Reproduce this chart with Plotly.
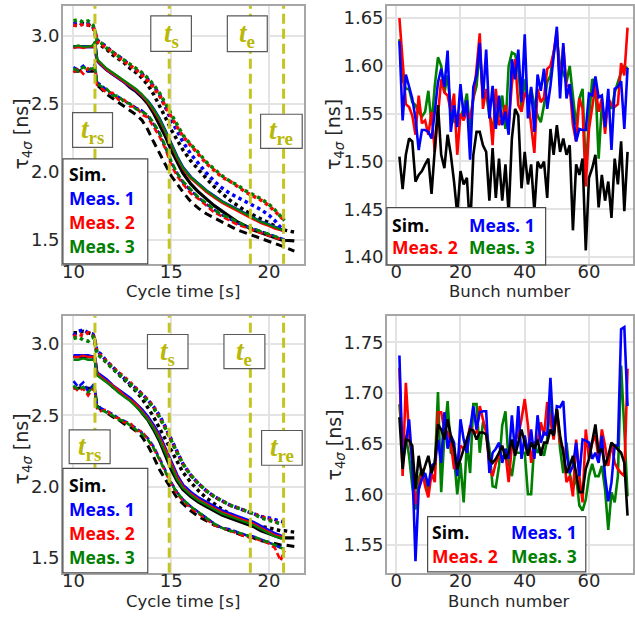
import plotly.graph_objects as go

W, H = 635, 617

# ---------------- bunch-length evolution along the cycle (left panels) ----------------
t_meas = [10.0, 10.25, 10.5, 10.75, 11.0, 11.1, 11.2, 11.4, 11.7, 12.0, 12.3, 12.6,
          12.9, 13.2, 13.5, 13.8, 14.1, 14.4, 14.7, 15.0, 15.3, 15.6, 16.0, 16.4,
          16.8, 17.2, 17.6, 18.0, 18.4, 18.8, 19.2, 19.6, 20.0, 20.3, 20.6, 20.8]
t_sim = t_meas + [21.05, 21.3]

# upper panel: max (dotted), mean (solid), min (dashed)
top_sim_max = [3.08, 3.08, 3.09, 3.08, 3.07, 3.02, 2.95, 2.93, 2.90, 2.86, 2.83, 2.80, 2.76, 2.73, 2.69, 2.64,
               2.57, 2.49, 2.40, 2.31, 2.23, 2.16, 2.08, 2.01, 1.95, 1.89, 1.84, 1.79, 1.75, 1.71, 1.68, 1.65,
               1.62, 1.60, 1.58, 1.57, 1.56, 1.555]
top_sim_mean = [2.92, 2.92, 2.92, 2.92, 2.92, 2.94, 2.82, 2.79, 2.75, 2.72, 2.69, 2.66, 2.62, 2.59, 2.55, 2.50,
                2.43, 2.35, 2.26, 2.16, 2.07, 1.99, 1.91, 1.85, 1.80, 1.75, 1.71, 1.67, 1.63, 1.60, 1.57, 1.55,
                1.53, 1.51, 1.50, 1.495, 1.49, 1.49]
top_sim_min = [2.74, 2.74, 2.75, 2.74, 2.74, 2.75, 2.64, 2.61, 2.57, 2.54, 2.51, 2.48, 2.45, 2.42, 2.38, 2.31,
               2.22, 2.14, 2.05, 1.97, 1.91, 1.85, 1.78, 1.73, 1.69, 1.66, 1.63, 1.60, 1.57, 1.55, 1.53, 1.51,
               1.49, 1.47, 1.455, 1.445, 1.43, 1.415]

top_m1_max = [3.09, 3.10, 3.08, 3.09, 3.07, 3.03, 2.97, 2.95, 2.92, 2.88, 2.85, 2.82, 2.78, 2.75, 2.72, 2.68,
              2.63, 2.57, 2.47, 2.38, 2.30, 2.22, 2.13, 2.06, 1.99, 1.93, 1.88, 1.84, 1.81, 1.78, 1.75, 1.72,
              1.68, 1.64, 1.59, 1.57]
top_m1_mean = [2.92, 2.92, 2.92, 2.92, 2.92, 2.95, 2.82, 2.79, 2.75, 2.72, 2.69, 2.66, 2.63, 2.60, 2.56, 2.52,
               2.46, 2.39, 2.30, 2.20, 2.11, 2.03, 1.96, 1.91, 1.86, 1.82, 1.78, 1.75, 1.72, 1.69, 1.66, 1.63,
               1.61, 1.59, 1.575, 1.565]
top_m1_min = [2.77, 2.75, 2.78, 2.74, 2.77, 2.79, 2.66, 2.64, 2.60, 2.57, 2.55, 2.52, 2.50, 2.47, 2.45, 2.41,
              2.35, 2.28, 2.18, 2.07, 1.99, 1.92, 1.86, 1.81, 1.76, 1.72, 1.68, 1.65, 1.62, 1.60, 1.58, 1.56,
              1.54, 1.52, 1.51, 1.50]

top_m2_max = [3.08, 3.07, 3.09, 3.08, 3.06, 3.03, 2.96, 2.94, 2.91, 2.88, 2.84, 2.81, 2.78, 2.75, 2.71, 2.67,
              2.62, 2.56, 2.48, 2.40, 2.33, 2.26, 2.19, 2.12, 2.06, 2.01, 1.96, 1.93, 1.89, 1.85, 1.82, 1.79,
              1.75, 1.71, 1.67, 1.64]
top_m2_mean = [2.91, 2.92, 2.91, 2.92, 2.92, 2.95, 2.82, 2.79, 2.75, 2.72, 2.69, 2.66, 2.63, 2.60, 2.56, 2.51,
               2.45, 2.38, 2.29, 2.19, 2.10, 2.02, 1.95, 1.90, 1.85, 1.81, 1.77, 1.74, 1.71, 1.68, 1.65, 1.62,
               1.60, 1.58, 1.57, 1.56]
top_m2_min = [2.73, 2.76, 2.72, 2.76, 2.74, 2.77, 2.64, 2.62, 2.58, 2.58, 2.53, 2.53, 2.48, 2.48, 2.42, 2.40,
              2.33, 2.26, 2.17, 2.05, 1.97, 1.91, 1.84, 1.80, 1.75, 1.70, 1.67, 1.64, 1.61, 1.59, 1.57, 1.55,
              1.53, 1.51, 1.50, 1.47]

top_m3_max = [3.11, 3.12, 3.10, 3.11, 3.08, 3.04, 2.97, 2.95, 2.91, 2.88, 2.85, 2.82, 2.79, 2.76, 2.73, 2.69,
              2.64, 2.58, 2.50, 2.42, 2.34, 2.27, 2.20, 2.14, 2.07, 2.02, 1.97, 1.93, 1.90, 1.86, 1.83, 1.80,
              1.76, 1.72, 1.67, 1.64]
top_m3_mean = [2.92, 2.93, 2.92, 2.92, 2.93, 2.96, 2.83, 2.80, 2.76, 2.73, 2.70, 2.67, 2.64, 2.61, 2.57, 2.52,
               2.46, 2.39, 2.30, 2.20, 2.11, 2.03, 1.96, 1.91, 1.86, 1.82, 1.78, 1.75, 1.72, 1.69, 1.66, 1.63,
               1.61, 1.59, 1.575, 1.565]
top_m3_min = [2.76, 2.74, 2.77, 2.75, 2.76, 2.78, 2.65, 2.63, 2.61, 2.56, 2.56, 2.51, 2.50, 2.46, 2.44, 2.42,
              2.36, 2.29, 2.19, 2.08, 1.99, 1.93, 1.87, 1.81, 1.77, 1.72, 1.68, 1.66, 1.63, 1.60, 1.58, 1.56,
              1.54, 1.52, 1.51, 1.49]

# lower panel
bot_sim_max = [3.08, 3.08, 3.09, 3.08, 3.07, 3.02, 2.94, 2.91, 2.87, 2.83, 2.79, 2.75, 2.71, 2.67, 2.62, 2.56,
               2.49, 2.41, 2.33, 2.25, 2.17, 2.10, 2.03, 1.97, 1.92, 1.88, 1.84, 1.81, 1.78, 1.76, 1.74, 1.72,
               1.71, 1.70, 1.69, 1.69, 1.685, 1.68]
bot_sim_mean = [2.91, 2.91, 2.91, 2.91, 2.91, 2.90, 2.79, 2.77, 2.74, 2.70, 2.67, 2.64, 2.61, 2.57, 2.52, 2.47,
                2.40, 2.32, 2.22, 2.12, 2.04, 1.98, 1.93, 1.89, 1.86, 1.83, 1.80, 1.78, 1.76, 1.74, 1.72, 1.69,
                1.67, 1.65, 1.64, 1.64, 1.64, 1.64]
bot_sim_min = [2.69, 2.69, 2.70, 2.69, 2.69, 2.68, 2.57, 2.54, 2.52, 2.49, 2.47, 2.44, 2.42, 2.39, 2.35, 2.29,
               2.21, 2.12, 2.05, 1.98, 1.92, 1.88, 1.83, 1.79, 1.76, 1.73, 1.71, 1.69, 1.67, 1.65, 1.64, 1.62,
               1.61, 1.60, 1.59, 1.59, 1.585, 1.58]

bot_m1_max = [3.06, 3.09, 3.10, 3.08, 3.07, 3.03, 2.95, 2.93, 2.88, 2.84, 2.80, 2.76, 2.72, 2.69, 2.65, 2.61,
              2.56, 2.50, 2.42, 2.33, 2.24, 2.16, 2.08, 2.02, 1.97, 1.93, 1.90, 1.87, 1.85, 1.83, 1.81, 1.79,
              1.78, 1.77, 1.76, 1.75]
bot_m1_mean = [2.92, 2.92, 2.92, 2.92, 2.91, 2.90, 2.80, 2.78, 2.75, 2.71, 2.68, 2.65, 2.62, 2.58, 2.54, 2.49,
               2.43, 2.36, 2.27, 2.17, 2.08, 2.01, 1.96, 1.92, 1.89, 1.86, 1.83, 1.81, 1.79, 1.77, 1.75, 1.72,
               1.69, 1.67, 1.655, 1.65]
bot_m1_min = [2.74, 2.70, 2.73, 2.67, 2.71, 2.68, 2.58, 2.55, 2.53, 2.51, 2.48, 2.46, 2.44, 2.41, 2.38, 2.34,
              2.28, 2.20, 2.11, 2.03, 1.96, 1.91, 1.86, 1.82, 1.78, 1.74, 1.71, 1.70, 1.68, 1.66, 1.65, 1.63,
              1.61, 1.59, 1.57, 1.56]

bot_m2_max = [3.05, 3.07, 3.06, 3.08, 3.06, 3.02, 2.94, 2.92, 2.88, 2.84, 2.80, 2.77, 2.73, 2.69, 2.65, 2.61,
              2.56, 2.49, 2.41, 2.32, 2.24, 2.16, 2.08, 2.02, 1.97, 1.93, 1.90, 1.87, 1.85, 1.83, 1.81, 1.79,
              1.77, 1.75, 1.74, 1.74]
bot_m2_mean = [2.91, 2.91, 2.92, 2.91, 2.91, 2.90, 2.80, 2.77, 2.74, 2.71, 2.68, 2.64, 2.61, 2.58, 2.53, 2.48,
               2.42, 2.35, 2.26, 2.16, 2.07, 2.00, 1.95, 1.91, 1.88, 1.85, 1.82, 1.80, 1.78, 1.76, 1.74, 1.71,
               1.68, 1.66, 1.65, 1.64]
bot_m2_min = [2.70, 2.67, 2.69, 2.64, 2.69, 2.66, 2.55, 2.53, 2.54, 2.49, 2.48, 2.45, 2.45, 2.39, 2.39, 2.33,
              2.27, 2.19, 2.10, 2.02, 1.95, 1.90, 1.85, 1.81, 1.77, 1.73, 1.71, 1.69, 1.67, 1.65, 1.64, 1.62,
              1.60, 1.57, 1.48, 1.55]

bot_m3_max = [3.04, 3.05, 3.03, 3.02, 3.05, 3.01, 2.93, 2.91, 2.87, 2.83, 2.79, 2.76, 2.72, 2.68, 2.64, 2.60,
              2.55, 2.49, 2.41, 2.32, 2.24, 2.16, 2.08, 2.02, 1.97, 1.93, 1.90, 1.87, 1.85, 1.83, 1.81, 1.78,
              1.76, 1.75, 1.74, 1.73]
bot_m3_mean = [2.89, 2.89, 2.90, 2.89, 2.89, 2.88, 2.78, 2.76, 2.73, 2.70, 2.66, 2.63, 2.60, 2.56, 2.52, 2.47,
               2.41, 2.33, 2.24, 2.14, 2.05, 1.99, 1.94, 1.90, 1.87, 1.84, 1.81, 1.79, 1.77, 1.75, 1.73, 1.70,
               1.67, 1.65, 1.64, 1.63]
bot_m3_min = [2.71, 2.68, 2.70, 2.66, 2.70, 2.67, 2.56, 2.54, 2.52, 2.50, 2.47, 2.46, 2.43, 2.40, 2.37, 2.33,
              2.27, 2.19, 2.10, 2.02, 1.96, 1.91, 1.86, 1.82, 1.78, 1.74, 1.71, 1.69, 1.68, 1.66, 1.65, 1.63,
              1.61, 1.59, 1.57, 1.56]

# characteristic times of the cycle
event_times = [11.1, 14.9, 19.05, 20.75]
event_names = ["rs", "s", "e", "re"]

# ---------------- bunch-by-bunch lengths at the end of the cycle (right panels) ----------------
bunches = list(range(1, 73))

top_sim_b = [1.505, 1.471, 1.507, 1.524, 1.521, 1.479, 1.486, 1.490, 1.497, 1.503, 1.466, 1.517,
             1.559, 1.507, 1.493, 1.528, 1.507, 1.479, 1.445, 1.490, 1.476, 1.483, 1.428, 1.507,
             1.531, 1.531, 1.517, 1.510, 1.459, 1.514, 1.462, 1.503, 1.459, 1.497, 1.445, 1.524,
             1.555, 1.548, 1.472, 1.510, 1.476, 1.497, 1.448, 1.500, 1.493, 1.500, 1.462, 1.534,
             1.507, 1.538, 1.510, 1.524, 1.507, 1.517, 1.428, 1.497, 1.486, 1.503, 1.407, 1.483,
             1.493, 1.507, 1.452, 1.486, 1.459, 1.479, 1.441, 1.503, 1.476, 1.521, 1.448, 1.510]
top_m1_b = [1.626, 1.543, 1.591, 1.579, 1.566, 1.545, 1.512, 1.533, 1.533, 1.531, 1.524, 1.552,
            1.583, 1.597, 1.578, 1.616, 1.531, 1.559, 1.536, 1.581, 1.547, 1.564, 1.502, 1.578,
            1.590, 1.624, 1.566, 1.617, 1.545, 1.579, 1.534, 1.569, 1.538, 1.552, 1.528, 1.607,
            1.586, 1.617, 1.562, 1.633, 1.545, 1.578, 1.531, 1.591, 1.574, 1.597, 1.555, 1.579,
            1.610, 1.641, 1.566, 1.624, 1.566, 1.581, 1.552, 1.521, 1.534, 1.533, 1.533, 1.571,
            1.569, 1.589, 1.567, 1.569, 1.536, 1.576, 1.512, 1.576, 1.578, 1.584, 1.534, 1.598]
top_m2_b = [1.650, 1.603, 1.560, 1.557, 1.548, 1.528, 1.569, 1.540, 1.543, 1.528, 1.552, 1.510,
            1.553, 1.586, 1.572, 1.569, 1.552, 1.571, 1.507, 1.550, 1.543, 1.553, 1.545, 1.566,
            1.597, 1.634, 1.555, 1.576, 1.555, 1.517, 1.576, 1.538, 1.545, 1.559, 1.538, 1.581,
            1.607, 1.559, 1.552, 1.572, 1.566, 1.538, 1.509, 1.576, 1.562, 1.567, 1.597, 1.600,
            1.614, 1.636, 1.579, 1.621, 1.579, 1.579, 1.538, 1.521, 1.566, 1.555, 1.474, 1.534,
            1.555, 1.579, 1.552, 1.566, 1.529, 1.566, 1.559, 1.557, 1.560, 1.603, 1.590, 1.640]
top_m3_b = [1.628, 1.586, 1.576, 1.576, 1.562, 1.559, 1.552, 1.547, 1.552, 1.574, 1.538, 1.579,
            1.609, 1.600, 1.572, 1.590, 1.555, 1.541, 1.545, 1.547, 1.555, 1.571, 1.531, 1.566,
            1.579, 1.617, 1.569, 1.572, 1.548, 1.538, 1.538, 1.548, 1.569, 1.534, 1.600, 1.614,
            1.612, 1.597, 1.555, 1.586, 1.562, 1.576, 1.559, 1.548, 1.541, 1.559, 1.583, 1.590,
            1.614, 1.628, 1.600, 1.593, 1.583, 1.600, 1.569, 1.538, 1.566, 1.576, 1.490, 1.545,
            1.586, 1.583, 1.503, 1.559, 1.538, 1.566, 1.555, 1.572, 1.583, 1.593, 1.600, 1.597]

bot_sim_b = [1.676, 1.625, 1.654, 1.653, 1.648, 1.605, 1.638, 1.618, 1.628, 1.638, 1.621, 1.631,
             1.669, 1.664, 1.654, 1.674, 1.658, 1.645, 1.625, 1.635, 1.645, 1.654, 1.664, 1.663,
             1.654, 1.661, 1.661, 1.659, 1.635, 1.631, 1.635, 1.641, 1.648, 1.635, 1.641, 1.654,
             1.638, 1.651, 1.664, 1.651, 1.638, 1.651, 1.645, 1.654, 1.638, 1.651, 1.651, 1.664,
             1.658, 1.684, 1.658, 1.641, 1.621, 1.628, 1.638, 1.621, 1.602, 1.602, 1.625, 1.635,
             1.651, 1.669, 1.641, 1.645, 1.628, 1.638, 1.651, 1.648, 1.645, 1.641, 1.631, 1.579]
bot_m1_b = [1.737, 1.631, 1.651, 1.674, 1.631, 1.534, 1.605, 1.615, 1.621, 1.608, 1.628, 1.631,
            1.654, 1.631, 1.681, 1.645, 1.658, 1.651, 1.618, 1.674, 1.654, 1.641, 1.664, 1.687,
            1.664, 1.681, 1.682, 1.682, 1.621, 1.641, 1.645, 1.651, 1.631, 1.645, 1.635, 1.678,
            1.641, 1.687, 1.635, 1.658, 1.641, 1.664, 1.635, 1.678, 1.651, 1.661, 1.658, 1.715,
            1.658, 1.687, 1.686, 1.692, 1.641, 1.621, 1.628, 1.651, 1.618, 1.654, 1.653, 1.651,
            1.635, 1.641, 1.631, 1.658, 1.618, 1.593, 1.612, 1.648, 1.648, 1.763, 1.765, 1.687]
bot_m2_b = [1.725, 1.618, 1.710, 1.658, 1.635, 1.590, 1.605, 1.625, 1.608, 1.597, 1.621, 1.612,
            1.681, 1.681, 1.664, 1.661, 1.651, 1.625, 1.631, 1.648, 1.645, 1.651, 1.668, 1.661,
            1.661, 1.687, 1.674, 1.661, 1.628, 1.618, 1.631, 1.638, 1.635, 1.641, 1.612, 1.648,
            1.654, 1.658, 1.674, 1.694, 1.668, 1.631, 1.651, 1.651, 1.671, 1.658, 1.691, 1.671,
            1.654, 1.684, 1.651, 1.645, 1.612, 1.618, 1.598, 1.654, 1.618, 1.592, 1.664, 1.635,
            1.651, 1.658, 1.635, 1.664, 1.648, 1.628, 1.651, 1.631, 1.625, 1.621, 1.618, 1.724]
bot_m3_b = [1.689, 1.648, 1.658, 1.638, 1.608, 1.585, 1.615, 1.625, 1.618, 1.602, 1.625, 1.625,
            1.701, 1.602, 1.658, 1.692, 1.641, 1.638, 1.600, 1.631, 1.592, 1.651, 1.621, 1.689,
            1.689, 1.641, 1.671, 1.664, 1.645, 1.608, 1.607, 1.628, 1.668, 1.682, 1.631, 1.618,
            1.641, 1.641, 1.641, 1.641, 1.600, 1.600, 1.651, 1.641, 1.645, 1.638, 1.654, 1.691,
            1.658, 1.684, 1.645, 1.621, 1.651, 1.621, 1.605, 1.618, 1.589, 1.584, 1.595, 1.618,
            1.630, 1.618, 1.618, 1.628, 1.605, 1.565, 1.602, 1.592, 1.618, 1.727, 1.664, 1.598]

series_names = ["Sim.", "Meas. 1", "Meas. 2", "Meas. 3"]
series_colors = ["#000000", "#0000ff", "#ff0000", "#008000"]

TICK_FONT = "DejaVu Sans"
LEGEND_FONT = "Open Sans"
OLIVE_LINE = "#c4c422"
OLIVE_TEXT = "#b8b808"


def px(x):
    return x / W


def py(y):
    return 1 - y / H


fig = go.Figure()

# ---- left panels ----
left_sets = [
    ("x", "y", [(t_sim, top_sim_max, top_sim_mean, top_sim_min),
                (t_meas, top_m1_max, top_m1_mean, top_m1_min),
                (t_meas, top_m2_max, top_m2_mean, top_m2_min),
                (t_meas, top_m3_max, top_m3_mean, top_m3_min)]),
    ("x3", "y3", [(t_sim, bot_sim_max, bot_sim_mean, bot_sim_min),
                  (t_meas, bot_m1_max, bot_m1_mean, bot_m1_min),
                  (t_meas, bot_m2_max, bot_m2_mean, bot_m2_min),
                  (t_meas, bot_m3_max, bot_m3_mean, bot_m3_min)]),
]
for xa, ya, sets in left_sets:
    for (t, vmax, vmean, vmin), color, name in zip(sets, series_colors, series_names):
        assert len(t) == len(vmax) == len(vmean) == len(vmin)
        is_sim = name == "Sim."
        fig.add_trace(go.Scatter(x=t, y=vmin, mode="lines", xaxis=xa, yaxis=ya, showlegend=False,
                                 line=dict(color=color, width=3 if is_sim else 2.6,
                                           dash="8px,5px" if is_sim else "6px,3px")))
        fig.add_trace(go.Scatter(x=t, y=vmax, mode="lines", xaxis=xa, yaxis=ya, showlegend=False,
                                 line=dict(color=color, width=3.5, dash="3.5px,3.5px")))
        fig.add_trace(go.Scatter(x=t, y=vmean, mode="lines", xaxis=xa, yaxis=ya, showlegend=False,
                                 line=dict(color=color, width=3.2 if name in ("Sim.", "Meas. 1") else 2.2)))

# ---- right panels ----
right_sets = [
    ("x2", "y2", [top_sim_b, top_m1_b, top_m2_b, top_m3_b]),
    ("x4", "y4", [bot_sim_b, bot_m1_b, bot_m2_b, bot_m3_b]),
]
for xa, ya, sets in right_sets:
    for i in [3, 2, 1, 0]:
        assert len(sets[i]) == len(bunches)
        fig.add_trace(go.Scatter(x=bunches, y=sets[i], mode="lines", xaxis=xa, yaxis=ya,
                                 showlegend=False, line=dict(color=series_colors[i], width=2.6)))

# ---- axes ----
axis_common = dict(showline=True, mirror=True, linecolor="#a6a6a6", linewidth=1.5,
                   showgrid=True, gridcolor="#e3e3e3", gridwidth=1.5, zeroline=False,
                   ticks="", tickfont=dict(family=TICK_FONT, size=18, color="#262626"))
x_common = dict(ticklabelstandoff=-9, **axis_common)
y_common = dict(ticklabelstandoff=-2, **axis_common)

dom_left = [px(62), px(303)]
dom_right = [px(386.5), px(633)]
dom_top = [py(265.5), py(6)]
dom_bot = [py(576.5), py(318)]

fig.update_layout(
    xaxis=dict(domain=dom_left, anchor="y", range=[9.46, 21.77], tickvals=[10, 15, 20], **x_common),
    yaxis=dict(domain=dom_top, anchor="x", range=[1.322, 3.22], tickvals=[1.5, 2.0, 2.5, 3.0],
               tickformat=".1f", **y_common),
    xaxis2=dict(domain=dom_right, anchor="y2", range=[-2.9, 73.7], tickvals=[0, 20, 40, 60], **x_common),
    yaxis2=dict(domain=dom_top, anchor="x2", range=[1.393, 1.6627],
                tickvals=[1.40, 1.45, 1.50, 1.55, 1.60, 1.65], tickformat=".2f", **y_common),
    xaxis3=dict(domain=dom_left, anchor="y3", range=[9.46, 21.77], tickvals=[10, 15, 20], **x_common),
    yaxis3=dict(domain=dom_bot, anchor="x3", range=[1.395, 3.198], tickvals=[1.5, 2.0, 2.5, 3.0],
                tickformat=".1f", **y_common),
    xaxis4=dict(domain=dom_right, anchor="y4", range=[-2.9, 73.7], tickvals=[0, 20, 40, 60], **x_common),
    yaxis4=dict(domain=dom_bot, anchor="x4", range=[1.5226, 1.776],
                tickvals=[1.55, 1.60, 1.65, 1.70, 1.75], tickformat=".2f", **y_common),
)

shapes = []
annotations = []

# axis titles
ytitle = "τ<sub>4<i>σ</i></sub> [ns]"
for x, y, text, angle, size in [
    (182.5, 293, "Cycle time [s]", 0, 16.5), (510, 293, "Bunch number", 0, 16.5),
    (182.5, 605, "Cycle time [s]", 0, 16.5), (509, 605, "Bunch number", 0, 16.5),
    (21.5, 135, ytitle, -90, 19), (333.5, 135, ytitle, -90, 19),
    (21.5, 452, ytitle, -90, 19), (335, 448, ytitle, -90, 19),
]:
    annotations.append(dict(x=px(x), y=py(y), xref="paper", yref="paper", text=text, showarrow=False,
                            textangle=angle, xanchor="center", yanchor="middle",
                            font=dict(family=TICK_FONT, size=size, color="#262626")))

# characteristic-time markers and their labels
label_boxes = {
    "x": [(71.7, 111.7, 113.3, 148.3), (150, 190.7, 16, 51.7), (226.7, 266.7, 16, 52), (260, 301.7, 115, 149.3)],
    "x3": [(68.3, 109.3, 432.7, 466.7), (146.7, 187.3, 336.7, 371), (223.3, 264.3, 336.7, 371),
           (261, 301.7, 433.3, 468.3)],
}
for xa, ya in [("x", "y"), ("x3", "y3")]:
    for t in event_times:
        shapes.append(dict(type="line", xref=xa, yref=f"{ya} domain", x0=t, x1=t, y0=0, y1=1, layer="above",
                           line=dict(color=OLIVE_LINE, width=3, dash="10px,5px")))
    for (x0, x1, y0, y1), name in zip(label_boxes[xa], event_names):
        shapes.append(dict(type="rect", xref="paper", yref="paper", x0=px(x0), x1=px(x1), y0=py(y1), y1=py(y0),
                           fillcolor="white", layer="above", line=dict(color="#5a5a5a", width=1.2)))
        annotations.append(dict(x=px((x0 + x1) / 2), y=py((y0 + y1) / 2 + 1), xref="paper", yref="paper",
                                text=f"<b><i>t</i><sub>{name}</sub></b>", showarrow=False,
                                xanchor="center", yanchor="middle",
                                font=dict(family="Liberation Serif", size=27, color=OLIVE_TEXT)))


# legend boxes drawn as coloured labels
def legend_box(box, entries):
    x0, x1, y0, y1 = box
    shapes.append(dict(type="rect", xref="paper", yref="paper", x0=px(x0), x1=px(x1), y0=py(y1), y1=py(y0),
                       fillcolor="white", layer="above", line=dict(color="#4a4a4a", width=1.2)))
    for (x, y), name, color in entries:
        annotations.append(dict(x=px(x), y=py(y), xref="paper", yref="paper", text=f"<b>{name}</b>",
                                showarrow=False, xanchor="left", yanchor="middle",
                                font=dict(family=LEGEND_FONT, size=17.5, color=color)))


legend_box((62, 147, 160, 265.5),
           list(zip([(66, 175), (66, 199.5), (66, 223.5), (66, 248)], series_names, series_colors)))
legend_box((62, 147, 471.5, 576.5),
           list(zip([(66, 488), (66, 512), (66, 536.5), (66, 561)], series_names, series_colors)))
legend_box((386.5, 545.5, 209, 266.7),
           list(zip([(390, 226), (467, 226), (390, 248.5), (467, 248.5)], series_names, series_colors)))
legend_box((427.3, 585.7, 520, 575.7),
           list(zip([(430, 535), (509, 535), (430, 560), (509, 560)], series_names, series_colors)))

fig.update_layout(
    width=W, height=H, margin=dict(l=0, r=0, t=0, b=0),
    paper_bgcolor="white", plot_bgcolor="white",
    showlegend=False, shapes=shapes, annotations=annotations,
    font=dict(family=TICK_FONT, size=18, color="#262626"),
)

fig.write_html("out.html")
